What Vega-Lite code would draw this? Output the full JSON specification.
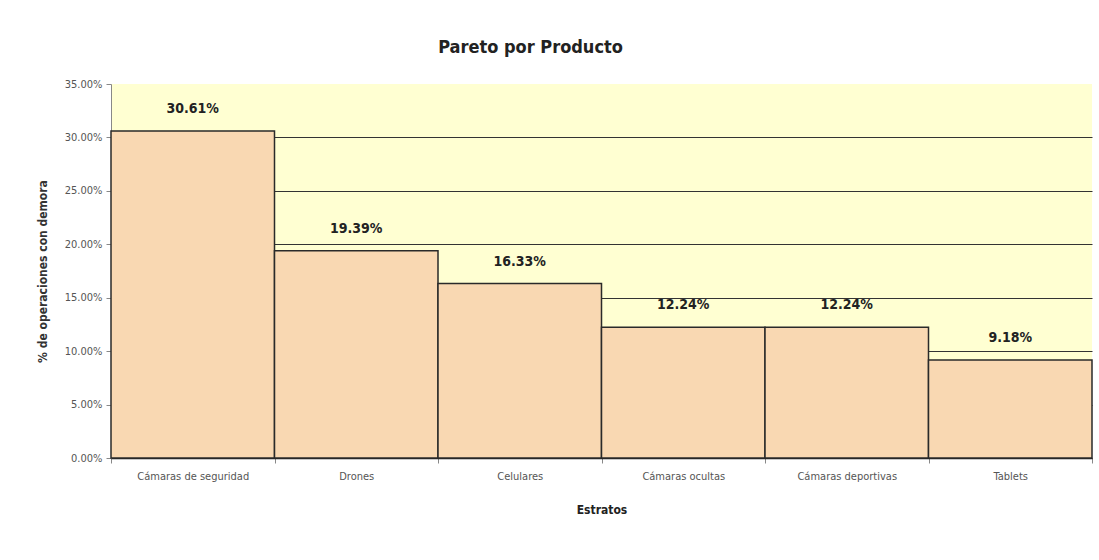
{
  "$schema": "https://vega.github.io/schema/vega-lite/v6.json",
  "autosize": {"type": "none"},
  "width": 981,
  "height": 374,
  "padding": {"left": 111, "top": 84, "right": 7, "bottom": 102},
  "background": "white",
  "config": {
    "font": "DejaVu Sans Condensed, Liberation Sans Narrow, Liberation Sans, sans-serif",
    "view": {"fill": "#FFFFD2", "stroke": null}
  },
  "title": {
    "text": "Pareto por Producto",
    "fontSize": 18,
    "fontWeight": "bold",
    "color": "#222222",
    "anchor": "middle",
    "dx": -71,
    "offset": 21
  },
  "data": {
    "values": [
      {"producto": "Cámaras de seguridad", "pct": 0.3061},
      {"producto": "Drones", "pct": 0.1939},
      {"producto": "Celulares", "pct": 0.1633},
      {"producto": "Cámaras ocultas", "pct": 0.1224},
      {"producto": "Cámaras deportivas", "pct": 0.1224},
      {"producto": "Tablets", "pct": 0.0918}
    ]
  },
  "encoding": {
    "x": {
      "field": "producto",
      "type": "nominal",
      "sort": null,
      "scale": {"paddingInner": 0, "paddingOuter": 0},
      "axis": {
        "title": "Estratos",
        "titleFontSize": 12,
        "titleFontWeight": "bold",
        "titleColor": "#222222",
        "titlePadding": 23,
        "labelAngle": 0,
        "labelFontSize": 11,
        "labelColor": "#555555",
        "labelPadding": 7,
        "tickBand": "extent",
        "tickColor": "#888888",
        "tickSize": 5,
        "domainColor": "#222222",
        "domainWidth": 1.5,
        "grid": false
      }
    },
    "y": {
      "field": "pct",
      "type": "quantitative",
      "scale": {"domain": [0, 0.35], "nice": false},
      "axis": {
        "title": "% de operaciones con demora",
        "titleFontSize": 12,
        "titleFontWeight": "bold",
        "titleColor": "#333333",
        "titlePadding": 15,
        "format": ".2%",
        "values": [0, 0.05, 0.1, 0.15, 0.2, 0.25, 0.3, 0.35],
        "labelFontSize": 11,
        "labelColor": "#555555",
        "labelPadding": 4,
        "tickColor": "#888888",
        "tickSize": 5,
        "domainColor": "#888888",
        "grid": true,
        "gridColor": "#333333",
        "gridWidth": 1,
        "gridOpacity": {"condition": {"test": "datum.value >= 0.35", "value": 0}, "value": 1}
      }
    }
  },
  "layer": [
    {
      "mark": {"type": "bar", "fill": "#F9D8B2", "stroke": "#2a2a2a", "strokeWidth": 1.5}
    },
    {
      "mark": {"type": "text", "dy": -22, "fontSize": 14, "fontWeight": "bold", "color": "#222222"},
      "encoding": {"text": {"field": "pct", "type": "quantitative", "format": ".2%"}}
    }
  ]
}
